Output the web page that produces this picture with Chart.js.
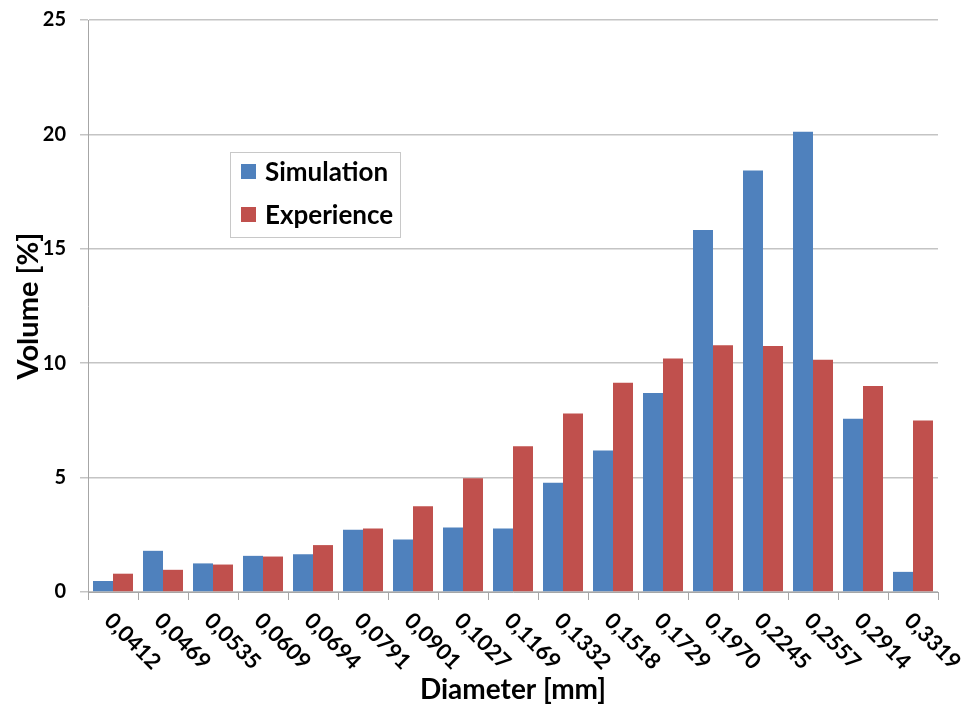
<!DOCTYPE html>
<html>
<head>
<meta charset="utf-8">
<script src="https://cdn.jsdelivr.net/npm/chart.js@4/dist/chart.umd.min.js"></script>
<style>
  html, body { margin: 0; padding: 0; background: #fff; }
  #wrap { width: 964px; height: 708px; }
</style>
</head>
<body>
<div id="wrap"><canvas id="chart" width="964" height="708"></canvas></div>
<script>
const diameters = ['0,0412', '0,0469', '0,0535', '0,0609', '0,0694', '0,0791', '0,0901', '0,1027', '0,1169',
  '0,1332', '0,1518', '0,1729', '0,1970', '0,2245', '0,2557', '0,2914', '0,3319'];
const simulation = [0.48, 1.8, 1.25, 1.58, 1.65, 2.72, 2.3, 2.82, 2.78, 4.78, 6.18, 8.7, 15.82, 18.42, 20.12, 7.57, 0.88];
const experience = [0.8, 0.97, 1.2, 1.55, 2.05, 2.78, 3.75, 4.97, 6.37, 7.8, 9.15, 10.2, 10.78, 10.75, 10.15, 9.0, 7.5];
const yTicks = [0, 5, 10, 15, 20, 25];

const FONT = 'Lato';

// rotated category labels, going down to the right like the original
const xLabelPlugin = {
  id: 'xLabels',
  afterDraw(chart) {
    const ctx = chart.ctx;
    const xs = chart.scales.x;
    ctx.save();
    ctx.font = 'bold 22px ' + FONT;
    ctx.fillStyle = '#000';
    ctx.textAlign = 'left';
    ctx.textBaseline = 'middle';
    diameters.forEach((lab, i) => {
      ctx.save();
      ctx.translate(xs.getPixelForTick(i) - 5, xs.top + 25);
      ctx.rotate(Math.PI / 4);
      ctx.fillText(lab, 0, 0);
      ctx.restore();
    });
    ctx.restore();
  }
};

// boxed legend inside the plot
const boxLegend = {
  id: 'boxLegend',
  afterDraw(chart) {
    const ctx = chart.ctx;
    ctx.save();
    ctx.strokeStyle = '#c8c8c8';
    ctx.lineWidth = 1;
    ctx.fillStyle = '#fff';
    ctx.fillRect(230, 152, 170, 85);
    ctx.strokeRect(230.5, 152.5, 170, 85);
    ctx.font = 'bold 26px ' + FONT;
    ctx.textBaseline = 'middle';
    ctx.textAlign = 'left';
    chart.data.datasets.forEach((ds, i) => {
      const cy = 173 + i * 43;
      ctx.fillStyle = ds.backgroundColor;
      ctx.fillRect(241, cy - 9, 15, 15);
      ctx.fillStyle = '#000';
      ctx.fillText(ds.label, 265, cy);
    });
    ctx.restore();
  }
};

new Chart(document.getElementById('chart'), {
  type: 'bar',
  data: {
    labels: diameters,
    datasets: [
      { label: 'Simulation', data: simulation, backgroundColor: '#4f81bd' },
      { label: 'Experience', data: experience, backgroundColor: '#c0504d' }
    ]
  },
  options: {
    responsive: false,
    animation: false,
    layout: { padding: { top: 20, right: 26, left: 0, bottom: 0 } },
    datasets: { bar: { categoryPercentage: 0.8, barPercentage: 1.0 } },
    plugins: {
      legend: { display: false },
      tooltip: { enabled: false }
    },
    scales: {
      x: {
        grid: { drawOnChartArea: false, color: '#a6a6a6', tickLength: 8 },
        border: { color: '#a6a6a6' },
        ticks: { display: false },
        title: {
          display: true, text: 'Diameter [mm]', color: '#000',
          font: { family: FONT, size: 28, weight: 'bold' },
          padding: { top: 0, bottom: 1 }
        },
        afterFit(scale) { scale.height = 116; }
      },
      y: {
        min: 0, max: 25,
        afterBuildTicks(scale) { scale.ticks = yTicks.map(v => ({ value: v })); },
        grid: { color: '#c4c4c4', lineWidth: 1.5, tickLength: 8 },
        border: { color: '#a6a6a6' },
        ticks: { color: '#000', padding: 14, font: { family: FONT, size: 20, weight: 'bold' } },
        title: {
          display: true, text: 'Volume [%]', color: '#000',
          font: { family: FONT, size: 29, weight: 'bold' },
          padding: { top: 11, bottom: 0 }
        },
        afterFit(scale) {
          scale.width = 88;
          scale.paddingTop = 0;
          scale.paddingBottom = 0;
        }
      }
    }
  },
  plugins: [xLabelPlugin, boxLegend]
});
</script>
</body>
</html>
